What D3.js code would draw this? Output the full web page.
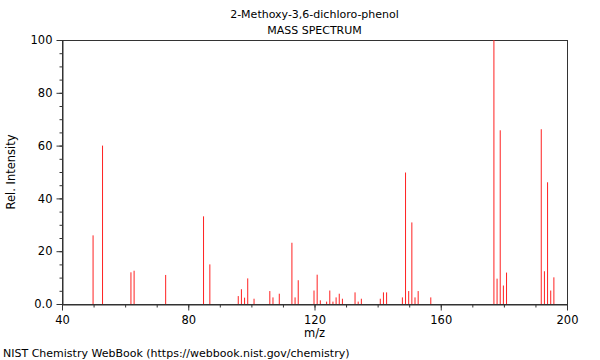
<!DOCTYPE html>
<html>
<head>
<meta charset="utf-8">
<script src="https://cdn.jsdelivr.net/npm/d3@7"></script>
<style>
  body { margin: 0; background: #fff; }
  svg text { font-family: "DejaVu Sans", sans-serif; fill: #000; }
  .axis path, .axis line { stroke: #333; }
</style>
</head>
<body>
<div id="chart"></div>
<script>
// peak data
var masses = [50, 53, 62, 63, 73, 85, 87, 96, 97, 98, 99, 101, 106, 107, 109,
    113, 114, 115, 120, 121, 122, 124, 125, 126, 127, 128, 129, 133, 134, 135,
    141, 142, 143, 148, 149, 150, 151, 152, 153, 157,
    177, 178, 179, 180, 181, 192, 193, 194, 195, 196];
var intensities = [26, 60, 12, 12.6, 11, 33.2, 15, 3, 5.6, 2.4, 9.7, 2, 4.9, 2.5, 3.9,
    23.2, 2.5, 9, 5.1, 11.1, 1.4, 0.9, 5.1, 0.9, 2.5, 3.9, 2, 4.4, 0.9, 2,
    2, 4.4, 4.4, 2.5, 49.8, 4.9, 30.9, 2.5, 4.9, 2.5,
    100, 9.6, 65.8, 7, 11.9, 66.2, 12.4, 46.1, 5.1, 10.1];
var xTicks = [40, 80, 120, 160, 200];
var yTicks = [0, 20, 40, 60, 80, 100];

var width = 600, height = 360;
var margin = {top: 40, right: 33, bottom: 56, left: 62};

var svg = d3.select('#chart').append('svg')
    .attr('width', width)
    .attr('height', height);

var x = d3.scaleLinear().domain([40, 200]).range([margin.left, width - margin.right]);
var y = d3.scaleLinear().domain([0, 100]).range([height - margin.bottom, margin.top]);

// frame
svg.append('rect')
    .attr('x', x(40) + 0.5)
    .attr('y', y(100) + 0.5)
    .attr('width', x(200) - x(40))
    .attr('height', y(0) - y(100))
    .attr('fill', 'none')
    .attr('stroke', '#333');

// minor ticks
svg.append('g')
    .attr('class', 'axis')
    .attr('transform', 'translate(' + (x(40) + 0.5) + ',0)')
    .call(d3.axisLeft(y).tickValues(d3.range(0, 101, 5)).tickSize(3).tickSizeOuter(0).tickFormat(''))
    .call(g => g.select('.domain').remove());
svg.append('g')
    .attr('class', 'axis')
    .attr('transform', 'translate(0,' + (y(0) + 0.5) + ')')
    .call(d3.axisBottom(x).tickValues(d3.range(40, 201, 10)).tickSize(3).tickSizeOuter(0).tickFormat(''))
    .call(g => g.select('.domain').remove());

// major ticks
svg.append('g')
    .attr('class', 'axis')
    .attr('transform', 'translate(' + (x(40) + 0.5) + ',0)')
    .call(d3.axisLeft(y).tickValues(yTicks).tickSize(6).tickSizeOuter(0)
        .tickFormat(d => d === 0 ? '0.0' : d))
    .call(g => g.selectAll('text').attr('font-size', 11.5).attr('dx', '-1'));
svg.append('g')
    .attr('class', 'axis')
    .attr('transform', 'translate(0,' + (y(0) + 0.5) + ')')
    .call(d3.axisBottom(x).tickValues(xTicks).tickSize(6).tickSizeOuter(0))
    .call(g => g.selectAll('text').attr('font-size', 11.5).attr('dy', '0.95em'));

// peaks
svg.append('g').selectAll('line')
    .data(masses)
    .join('line')
    .attr('x1', d => x(d) - 0.5)
    .attr('x2', d => x(d) - 0.5)
    .attr('y1', y(0))
    .attr('y2', (d, i) => y(intensities[i]))
    .attr('stroke', '#ff2020')
    .attr('stroke-width', 1);

// titles and labels
var cx = (x(40) + x(200)) / 2;
svg.append('text').attr('x', cx).attr('y', 18).attr('text-anchor', 'middle')
    .attr('font-size', 11).text('2-Methoxy-3,6-dichloro-phenol');
svg.append('text').attr('x', cx).attr('y', 34).attr('text-anchor', 'middle')
    .attr('font-size', 11).text('MASS SPECTRUM');
svg.append('text').attr('x', cx).attr('y', 337).attr('text-anchor', 'middle')
    .attr('font-size', 11.5).text('m/z');
svg.append('text')
    .attr('transform', 'translate(15,' + ((y(0) + y(100)) / 2) + ') rotate(-90)')
    .attr('text-anchor', 'middle')
    .attr('font-size', 11.5).text('Rel. Intensity');
svg.append('text').attr('x', 3).attr('y', 357)
    .attr('font-size', 11).text('NIST Chemistry WebBook (https://webbook.nist.gov/chemistry)');
</script>
</body>
</html>
